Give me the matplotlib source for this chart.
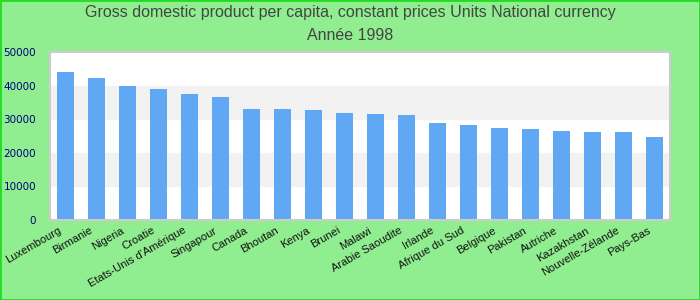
import matplotlib
matplotlib.use('Agg')
import matplotlib.pyplot as plt
import matplotlib.transforms as mtrans
from matplotlib.patches import Rectangle

countries = ['Luxembourg', 'Birmanie', 'Nigeria', 'Croatie', "Etats-Unis d'Amérique",
             'Singapour', 'Canada', 'Bhoutan', 'Kenya', 'Brunei', 'Malawi',
             'Arabie Saoudite', 'Irlande', 'Afrique du Sud', 'Belgique', 'Pakistan',
             'Autriche', 'Kazakhstan', 'Nouvelle-Zélande', 'Pays-Bas']
gdp = [44000, 42200, 39900, 39000, 37500, 36600, 33000, 33000, 32700, 31800,
       31600, 31200, 28900, 28300, 27400, 27100, 26500, 26200, 26200, 24700]
yticks = [0, 10000, 20000, 30000, 40000, 50000]

bg = '#90ee90'
fig = plt.figure(figsize=(7, 3), dpi=100, facecolor=bg)
fig.patches.append(Rectangle((0, 0), 1, 1, transform=fig.transFigure, fill=False,
                             edgecolor='#22dd22', linewidth=2, zorder=10))
ax = fig.add_axes([50/700, 80/300, 620/700, 168/300])
ax.set_facecolor('white')

# alternating bands
for lo in range(10000, 50000, 20000):
    ax.axhspan(lo, lo + 10000, color='#f2f2f2', zorder=0)

x = range(len(countries))
ax.bar(x, gdp, width=0.55, color='#60a8f4', zorder=2)
ax.set_xlim(-0.5, len(countries) - 0.5)
ax.set_ylim(0, 50000)
ax.set_yticks(yticks)
ax.set_yticklabels([str(v) for v in yticks], color='#000080', fontsize=7.5)
ax.set_xticks(list(x))
ax.set_xticklabels(countries, rotation=30, ha='right', rotation_mode='anchor',
                   fontsize=8, family='Liberation Sans', color='#111111')
ax.tick_params(axis='both', length=0)
ax.tick_params(axis='y', pad=10)
ax.tick_params(axis='x', pad=6)
shift = mtrans.ScaledTranslation(-0.07, 0.03, fig.dpi_scale_trans)
for lab in ax.get_xticklabels():
    lab.set_transform(lab.get_transform() + shift)
for s in ax.spines.values():
    s.set_color('#cccccc')
    s.set_linewidth(1.5)

fig.text(0.5, 1 - 13/300, 'Gross domestic product per capita, constant prices Units National currency',
         ha='center', va='center', fontsize=11.5, color='#444444', family='Liberation Sans')
fig.text(0.5, 1 - 35/300, 'Année 1998', ha='center', va='center', fontsize=11.5,
         color='#444444', family='Liberation Sans')

fig.savefig('out.png', dpi=100, facecolor=bg)
